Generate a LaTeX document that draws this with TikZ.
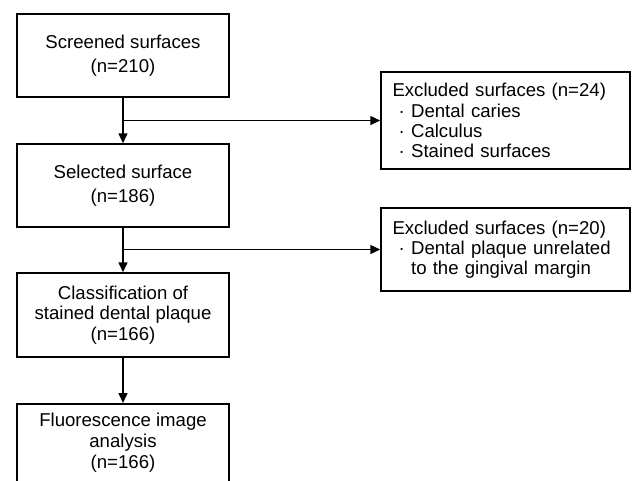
\documentclass[tikz,border=0pt]{standalone}
\usepackage{fontspec}
\setmainfont{Liberation Sans}
\usetikzlibrary{arrows.meta}
\newcommand\bul{\makebox[1em]{·}}
\begin{document}
\begin{tikzpicture}[x=1pt,y=-1pt,
  box/.style={draw,line width=1.5pt,rectangle,inner sep=0pt,align=center,minimum width=212pt},
  side/.style={draw,line width=1.5pt,rectangle,inner xsep=11.5pt,inner ysep=0pt,text width=226pt,align=left},
  arr/.style={line width=1.5pt,-{Triangle[length=10pt,width=9pt]}},
  ln/.style={line width=1.5pt}]
\useasboundingbox (0,0) rectangle (632,480);
\begin{scope}
\clip (0,0) rectangle (632,480);
\node[box,minimum height=83pt,font=\fontsize{18.6}{23.5}\selectfont] (s1) at (123,55.5) {Screened surfaces\\(n=210)};
\node[box,minimum height=83pt,font=\fontsize{18.6}{23.5}\selectfont] (s2) at (123,185.5) {Selected surface\\(n=186)};
\node[box,minimum height=84pt,font=\fontsize{18.6}{20.5}\selectfont] (s3) at (123,315) {Classification of\\stained dental plaque\\(n=166)};
\node[box,minimum height=100pt,font=\fontsize{18.6}{21}\selectfont,anchor=north] (s4) at (123,403) {\rule{0pt}{0pt}};
\node[font=\fontsize{18.6}{21}\selectfont,align=center,inner sep=0pt] (t4) at (123,443) {Fluorescence image\\analysis\\(n=166)};
\node[side,minimum height=97pt,font=\fontsize{18.6}{20.3}\selectfont] (e1) at (505.5,120.5) {Excluded surfaces (n=24)\\\bul Dental caries\\\bul Calculus\\\bul Stained surfaces};
\node[side,minimum height=83pt,font=\fontsize{18.6}{20}\selectfont] (e2) at (505.5,249.5) {Excluded surfaces (n=20)\\\bul Dental plaque unrelated\\\hspace*{1em}to the gingival margin};
\coordinate (j1) at (123,120.5);
\coordinate (j2) at (123,249.5);
\draw[arr] (s1) -- (s2);
\draw[arr] (j1) -- (e1.west);
\draw[arr] (s2) -- (s3);
\draw[arr] (j2) -- (e2.west);
\draw[arr] (s3) -- (s4);
\end{scope}
\end{tikzpicture}
\end{document}
